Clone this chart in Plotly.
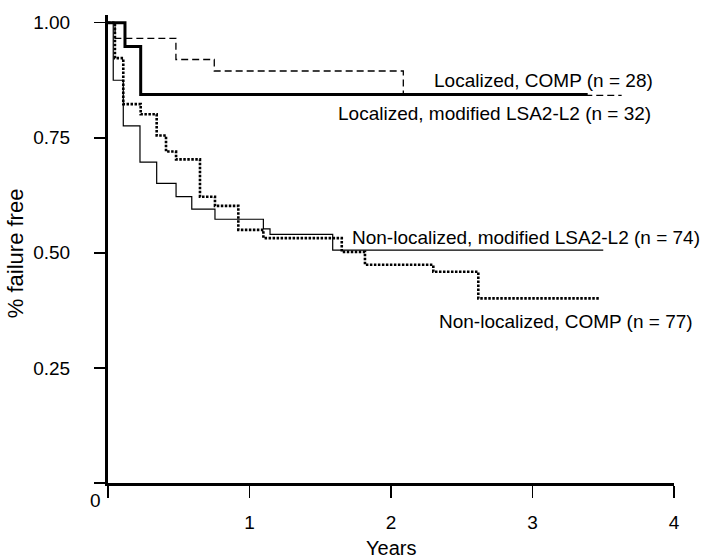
import plotly.graph_objects as go

# ---- data (years, failure-free proportion after each drop) ----
loc_comp_times = [0.050, 0.480, 0.751, 2.087]
loc_comp_surv = [0.966, 0.920, 0.895, 0.842]
loc_comp_end = 3.63

loc_mod_times = [0.120, 0.231]
loc_mod_surv = [0.948, 0.844]
loc_mod_end = 3.39

nonloc_mod_times = [0.037, 0.108, 0.226, 0.344, 0.481, 0.592, 0.756, 1.098, 1.145, 1.588]
nonloc_mod_surv = [0.875, 0.776, 0.697, 0.651, 0.622, 0.595, 0.573, 0.552, 0.540, 0.506]
nonloc_mod_end = 3.50

nonloc_comp_times = [0.049, 0.108, 0.231, 0.344, 0.410, 0.481, 0.650, 0.756, 0.921,
                     1.098, 1.652, 1.816, 2.299, 2.617]
nonloc_comp_surv = [0.923, 0.823, 0.801, 0.755, 0.720, 0.703, 0.622, 0.602, 0.550,
                    0.532, 0.502, 0.474, 0.459, 0.401]
nonloc_comp_end = 3.477

x_tickvals = [0, 1, 2, 3, 4]
x_ticktext = ["", "1", "2", "3", "4"]
y_tickvals = [0, 0.25, 0.5, 0.75, 1.0]
y_ticktext = ["", "0.25", "0.50", "0.75", "1.00"]

labels = {
    "loc_comp": "Localized, COMP (n = 28)",
    "loc_mod": "Localized, modified LSA2-L2 (n = 32)",
    "nonloc_mod": "Non-localized, modified LSA2-L2 (n = 74)",
    "nonloc_comp": "Non-localized, COMP (n = 77)",
}

FONT = "Liberation Sans, Arial, Helvetica, sans-serif"


def steps(times, surv, end):
    return [0.0] + list(times) + [end], [1.0] + list(surv) + [surv[-1]]


fig = go.Figure()

x, y = steps(loc_comp_times, loc_comp_surv, loc_comp_end)
fig.add_trace(go.Scatter(x=x, y=y, mode="lines", line_shape="hv",
                         line=dict(color="black", width=1.3, dash="7px,4px"),
                         name=labels["loc_comp"]))

x, y = steps(nonloc_mod_times, nonloc_mod_surv, nonloc_mod_end)
fig.add_trace(go.Scatter(x=x, y=y, mode="lines", line_shape="hv",
                         line=dict(color="black", width=1.2),
                         name=labels["nonloc_mod"]))

x, y = steps(nonloc_comp_times, nonloc_comp_surv, nonloc_comp_end)
fig.add_trace(go.Scatter(x=x, y=y, mode="lines", line_shape="hv",
                         line=dict(color="black", width=2.6, dash="2.5px,1.5px"),
                         name=labels["nonloc_comp"]))

x, y = steps(loc_mod_times, loc_mod_surv, loc_mod_end)
fig.add_trace(go.Scatter(x=x, y=y, mode="lines", line_shape="hv",
                         line=dict(color="black", width=3),
                         name=labels["loc_mod"]))

ann_font = dict(family=FONT, size=19, color="black")
annotations = [
    dict(x=2.29, y=0.8755, xref="x", yref="y", text=labels["loc_comp"],
         xanchor="left", yanchor="middle", showarrow=False, font=ann_font),
    dict(x=3.852, y=0.803, xref="x", yref="y", text=labels["loc_mod"],
         xanchor="right", yanchor="middle", showarrow=False, font=ann_font),
    dict(x=1.71, y=0.534, xref="x", yref="y", text=labels["nonloc_mod"],
         xanchor="left", yanchor="middle", showarrow=False, font=ann_font),
    dict(x=2.325, y=0.350, xref="x", yref="y", text=labels["nonloc_comp"],
         xanchor="left", yanchor="middle", showarrow=False, font=ann_font),
    # corner "0"
    dict(x=0, y=0, xref="paper", yref="paper", text="0", xanchor="center",
         yanchor="middle", xshift=-13, yshift=-17, showarrow=False, font=ann_font),
    # axis titles
    dict(x=0.5, y=0, xref="paper", yref="paper", text="Years", xanchor="center",
         yanchor="middle", yshift=-65, showarrow=False,
         font=dict(family=FONT, size=20, color="black")),
    dict(x=0, y=0.491, xref="paper", yref="paper", text="% failure free",
         textangle=-90, xanchor="center", yanchor="middle", xshift=-93,
         showarrow=False, font=dict(family=FONT, size=22, color="black")),
]

fig.update_layout(
    width=711, height=559,
    margin=dict(l=108, r=37, t=15, b=76, pad=0),
    paper_bgcolor="white", plot_bgcolor="white",
    showlegend=False,
    hovermode=False,
    font=dict(family=FONT, size=19, color="black"),
    annotations=annotations,
    xaxis=dict(range=[0, 4], tickvals=x_tickvals, ticktext=x_ticktext,
               showgrid=False, zeroline=False, showline=True, linecolor="black",
               linewidth=3, ticks="outside", ticklen=12, tickwidth=1.5,
               tickcolor="black", ticklabelstandoff=8,
               tickfont=dict(family=FONT, size=19, color="black")),
    yaxis=dict(range=[0, 1.0167], tickvals=y_tickvals, ticktext=y_ticktext,
               showgrid=False, zeroline=False, showline=True, linecolor="black",
               linewidth=3, ticks="outside", ticklen=11, tickwidth=1.5,
               tickcolor="black", ticklabelstandoff=20,
               tickfont=dict(family=FONT, size=19, color="black")),
)

# remove the default page margin so the 711x559 figure fills the window exactly
fig.write_html("out.html",
               config={"displayModeBar": False, "staticPlot": True},
               post_script="document.body.style.margin='0';"
                           "document.body.style.overflow='hidden';")
